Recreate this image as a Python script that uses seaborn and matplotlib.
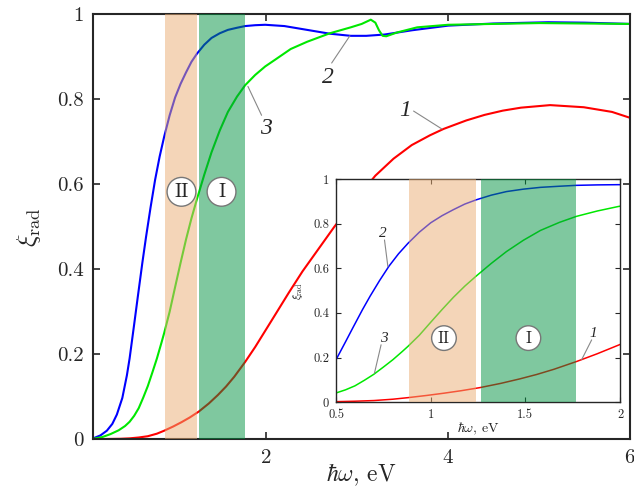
import matplotlib
matplotlib.use("Agg")
import matplotlib.pyplot as plt
import seaborn as sns

# curve 1 (red)
x1 = [0.1, 0.4, 0.5, 0.6, 0.7, 0.8, 0.88, 0.98, 1.07, 1.16, 1.26, 1.37, 1.47, 1.56,
      1.65, 1.77, 1.88, 1.99, 2.1, 2.25, 2.4, 2.6, 2.75, 2.95, 3.2, 3.4, 3.6, 3.8,
      3.95, 4.2, 4.4, 4.6, 4.8, 5.12, 5.49, 5.8, 6.0]
y1 = [0.0, 0.001, 0.002, 0.004, 0.007, 0.013, 0.02, 0.03, 0.04, 0.051, 0.065, 0.084,
      0.104, 0.124, 0.147, 0.182, 0.217, 0.255, 0.293, 0.345, 0.395, 0.455, 0.5,
      0.555, 0.62, 0.66, 0.692, 0.715, 0.73, 0.75, 0.763, 0.773, 0.78, 0.786, 0.781,
      0.77, 0.756]

# curve 2 (blue)
x2 = [0.1, 0.18, 0.25, 0.31, 0.36, 0.42, 0.47, 0.5, 0.55, 0.59, 0.64, 0.68, 0.73,
      0.78, 0.83, 0.88, 0.94, 1.0, 1.06, 1.12, 1.18, 1.24, 1.32, 1.4, 1.49, 1.58,
      1.68, 1.77, 1.88, 1.99, 2.2, 2.45, 2.7, 2.93, 3.1, 3.3, 3.6, 4.0, 4.5, 5.1,
      5.5, 6.0]
y2 = [0.002, 0.009, 0.02, 0.036, 0.058, 0.097, 0.15, 0.19, 0.27, 0.335, 0.415, 0.475,
      0.545, 0.61, 0.665, 0.712, 0.762, 0.804, 0.836, 0.863, 0.888, 0.907, 0.928,
      0.944, 0.955, 0.963, 0.968, 0.972, 0.974, 0.975, 0.972, 0.963, 0.954, 0.949,
      0.949, 0.952, 0.962, 0.973, 0.978, 0.981, 0.98, 0.977]

# curve 3 (green)
x3 = [0.1, 0.2, 0.29, 0.38, 0.45, 0.5, 0.55, 0.6, 0.65, 0.7, 0.75, 0.8, 0.85, 0.88,
      0.94, 1.0, 1.06, 1.12, 1.18, 1.24, 1.32, 1.4, 1.49, 1.58, 1.68, 1.77, 1.88,
      1.99, 2.1, 2.27, 2.45, 2.7, 2.93, 3.05, 3.15, 3.2, 3.24, 3.28, 3.32, 3.44,
      3.66, 4.0, 4.5, 5.0, 5.5, 6.0]
y3 = [0.001, 0.005, 0.012, 0.021, 0.031, 0.041, 0.055, 0.073, 0.098, 0.125, 0.157,
      0.19, 0.227, 0.25, 0.3, 0.358, 0.415, 0.47, 0.52, 0.565, 0.622, 0.675, 0.726,
      0.77, 0.806, 0.833, 0.857, 0.877, 0.893, 0.918, 0.935, 0.955, 0.969, 0.977,
      0.987, 0.98, 0.962, 0.949, 0.948, 0.957, 0.969, 0.975, 0.977, 0.979, 0.978,
      0.977]

# spectral bands (eV)
band_II = (0.885, 1.24)
band_I = (1.265, 1.765)

curves = [(x1, y1, "#ff0000"), (x2, y2, "#0000ff"), (x3, y3, "#00e800")]

sns.set_style("ticks")
plt.rcParams["font.family"] = ["cmr10", "DejaVu Serif"]
plt.rcParams["mathtext.fontset"] = "cm"
plt.rcParams["axes.formatter.use_mathtext"] = True


def draw(ax, lw):
    for xs, ys, c in curves:
        sns.lineplot(x=xs, y=ys, ax=ax, color=c, lw=lw, sort=False, zorder=2)
    ax.axvspan(*band_II, color="#ebad73", alpha=0.5, lw=0, zorder=3)
    ax.axvspan(*band_I, color="#009341", alpha=0.5, lw=0, zorder=3)


def label(ax, txt, pos, line, size):
    ax.text(pos[0], pos[1], txt, fontsize=size, ha="center", va="center", zorder=6,
            family="Liberation Serif", style="italic")
    ax.plot([line[0], line[2]], [line[1], line[3]], color="#888888", lw=0.8, zorder=5)


def circ(ax, txt, pos, size):
    ax.text(pos[0], pos[1], txt, fontsize=size, ha="center", va="center", zorder=6,
            bbox=dict(boxstyle="circle,pad=0.28", fc="white", ec="#777777", lw=1))


fig = plt.figure(figsize=(6.34, 4.88), dpi=100)
ax = fig.add_axes([0.147, 0.1, 0.847, 0.871])
draw(ax, 1.5)
ax.set_xlim(0.1, 6)
ax.set_ylim(0, 1)
ax.set_xticks([2, 4, 6])
ax.set_yticks([0, 0.2, 0.4, 0.6, 0.8, 1])
ax.set_yticklabels(["0", "0.2", "0.4", "0.6", "0.8", "1"])
ax.tick_params(direction="in", top=True, right=True, length=5, width=1.2,
               labelsize=15, pad=7)
for s in ax.spines.values():
    s.set_linewidth(1.5)
ax.set_xlabel(r"$\hbar\omega$, eV", fontsize=17, labelpad=-4)
ax.set_ylabel(r"$\xi_{\rm rad}$", fontsize=19, labelpad=10)

label(ax, "1", (3.53, 0.774), (3.62, 0.772, 3.93, 0.73), 17)
label(ax, "2", (2.68, 0.852), (2.72, 0.885, 2.92, 0.949), 17)
label(ax, "3", (2.0, 0.732), (1.95, 0.762, 1.8, 0.83), 17)
circ(ax, "II", (1.07, 0.582), 14)
circ(ax, "I", (1.51, 0.582), 14)

ins = fig.add_axes([0.530, 0.176, 0.448, 0.457])
ins.set_facecolor("white")
draw(ins, 1.1)
ins.set_xlim(0.5, 2)
ins.set_ylim(0, 1)
ins.set_xticks([0.5, 1, 1.5, 2])
ins.set_xticklabels(["0.5", "1", "1.5", "2"])
ins.set_yticks([0, 0.2, 0.4, 0.6, 0.8, 1])
ins.set_yticklabels(["0", "0.2", "0.4", "0.6", "0.8", "1"])
ins.tick_params(direction="in", top=True, right=True, length=3.5, width=0.8,
                labelsize=9, pad=5)
for s in ins.spines.values():
    s.set_linewidth(1)
ins.set_xlabel(r"$\hbar\omega$, eV", fontsize=10, labelpad=0)
ins.set_ylabel(r"$\xi_{\rm rad}$", fontsize=8, labelpad=6)

label(ins, "2", (0.747, 0.757), (0.756, 0.727, 0.774, 0.607), 11)
label(ins, "3", (0.75, 0.287), (0.738, 0.257, 0.703, 0.13), 11)
label(ins, "1", (1.86, 0.309), (1.85, 0.279, 1.797, 0.19), 11)
circ(ins, "II", (1.07, 0.287), 12)
circ(ins, "I", (1.516, 0.287), 12)

fig.savefig("out.png", dpi=100)
